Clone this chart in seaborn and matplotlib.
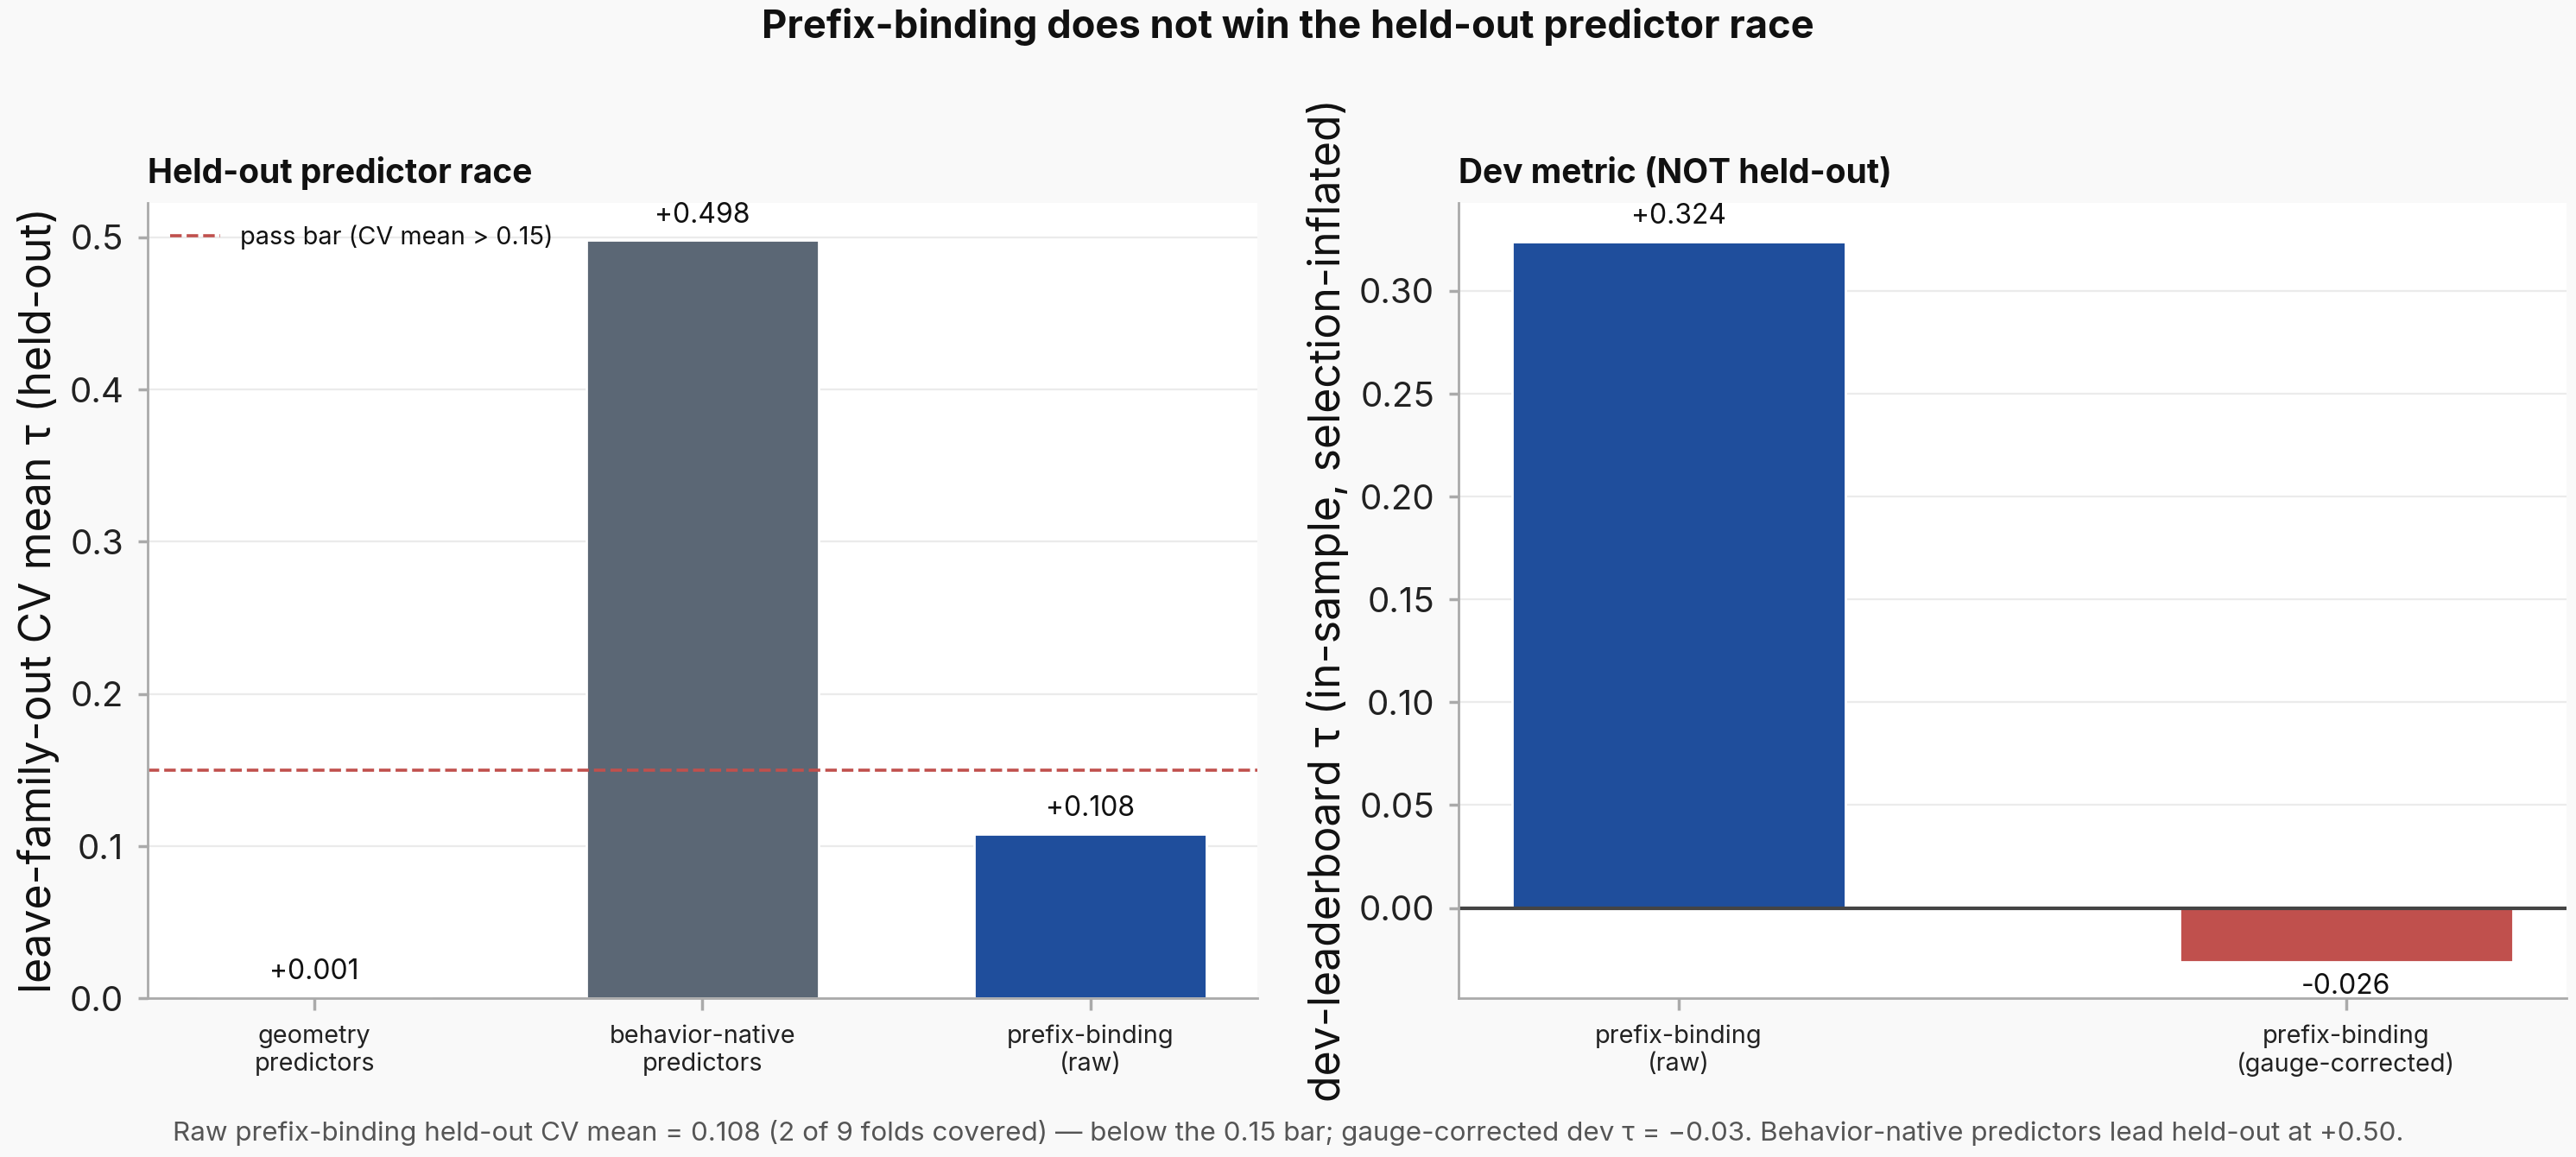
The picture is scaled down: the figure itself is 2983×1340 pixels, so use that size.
import pandas as pd
import matplotlib
matplotlib.use("Agg")
import matplotlib.pyplot as plt
import seaborn as sns

# Données
race_labels = ["geometry\npredictors", "behavior-native\npredictors", "prefix-binding\n(raw)"]
race_values = [0.001, 0.498, 0.108]
race_colors = ["#5b6775", "#5b6775", "#1f4e9c"]
pass_bar = 0.15

dev_labels = ["prefix-binding\n(raw)", "prefix-binding\n(gauge-corrected)"]
dev_values = [0.324, -0.026]
dev_colors = ["#1f4e9c", "#c0504d"]

sns.set_theme(style="whitegrid")
plt.rcParams["font.family"] = ["Inter", "DejaVu Sans"]
plt.rcParams["figure.facecolor"] = "#f9f9f9"
plt.rcParams["text.color"] = "#111111"
plt.rcParams["axes.labelcolor"] = "#111111"

fig = plt.figure(figsize=(14.915, 6.7), dpi=200)
ax1 = fig.add_axes([0.0573, 0.137, 0.4307, 0.688])
ax2 = fig.add_axes([0.5662, 0.137, 0.4301, 0.688])

for ax in (ax1, ax2):
    ax.set_facecolor("white")
    ax.grid(axis="y", color="#ebebeb", linewidth=0.8)
    ax.grid(axis="x", visible=False)
    ax.set_axisbelow(True)
    for s in ("top", "right"):
        ax.spines[s].set_visible(False)
    for s in ("left", "bottom"):
        ax.spines[s].set_color("#aaaaaa")
        ax.spines[s].set_linewidth(1.0)
    ax.tick_params(axis="y", labelsize=14.5, length=4, color="#aaaaaa", pad=6, left=True,
                   labelcolor="#222222")
    ax.tick_params(axis="x", labelsize=10.4, length=5, color="#aaaaaa", pad=6, bottom=True,
                   labelcolor="#222222")

# Panneau gauche : course des prédicteurs (held-out)
df1 = pd.DataFrame({"label": race_labels, "value": race_values})
sns.barplot(data=df1, x="label", y="value", hue="label", palette=race_colors,
            width=0.6, legend=False, ax=ax1, saturation=1)
ax1.axhline(pass_bar, color="#c0504d", linestyle="--", linewidth=1.3,
            label="pass bar (CV mean > 0.15)")
ax1.legend(loc="upper left", frameon=False, fontsize=10.4, handlelength=2.0)
ax1.set_xlim(-0.43, 2.43)
ax1.set_ylim(0, max(race_values) * 1.05)
ax1.set_yticks([0, 0.1, 0.2, 0.3, 0.4, 0.5])
ax1.set_xlabel("")
ax1.set_ylabel("leave-family-out CV mean τ (held-out)", fontsize=18)
ax1.set_title("Held-out predictor race", loc="left", fontsize=14, fontweight="bold", pad=8)
for i, v in enumerate(race_values):
    ax1.annotate(f"{v:+.3f}", (i, v), xytext=(0, 5), textcoords="offset points",
                 ha="center", va="bottom", fontsize=11.5)

# Panneau droit : métrique dev (non held-out)
df2 = pd.DataFrame({"label": dev_labels, "value": dev_values})
sns.barplot(data=df2, x="label", y="value", hue="label", palette=dev_colors,
            width=0.5, legend=False, ax=ax2, saturation=1)
ax2.axhline(0, color="#444444", linewidth=1.5)
ax2.set_xlim(-0.33, 1.33)
ax2.set_ylim(-0.044, 0.343)
ax2.set_yticks([0, 0.05, 0.10, 0.15, 0.20, 0.25, 0.30])
ax2.yaxis.set_major_formatter(matplotlib.ticker.FormatStrFormatter("%.2f"))
ax2.set_xlabel("")
ax2.set_ylabel("dev-leaderboard τ (in-sample, selection-inflated)", fontsize=18)
ax2.set_title("Dev metric (NOT held-out)", loc="left", fontsize=14, fontweight="bold", pad=8)
for i, v in enumerate(dev_values):
    if v >= 0:
        ax2.annotate(f"{v:+.3f}", (i, v), xytext=(0, 5), textcoords="offset points",
                     ha="center", va="bottom", fontsize=11.5)
    else:
        ax2.annotate(f"{v:.3f}", (i, v), xytext=(0, -5), textcoords="offset points",
                     ha="center", va="top", fontsize=11.5)

fig.suptitle("Prefix-binding does not win the held-out predictor race",
             fontsize=16.3, fontweight="bold", y=0.993)
fig.text(0.5, 0.01,
         "Raw prefix-binding held-out CV mean = 0.108 (2 of 9 folds covered) — below the 0.15 bar; "
         "gauge-corrected dev τ = −0.03. Behavior-native predictors lead held-out at +0.50.",
         ha="center", va="bottom", fontsize=11.3, color="#555555")

fig.savefig("out.png", dpi=200, facecolor=fig.get_facecolor())
